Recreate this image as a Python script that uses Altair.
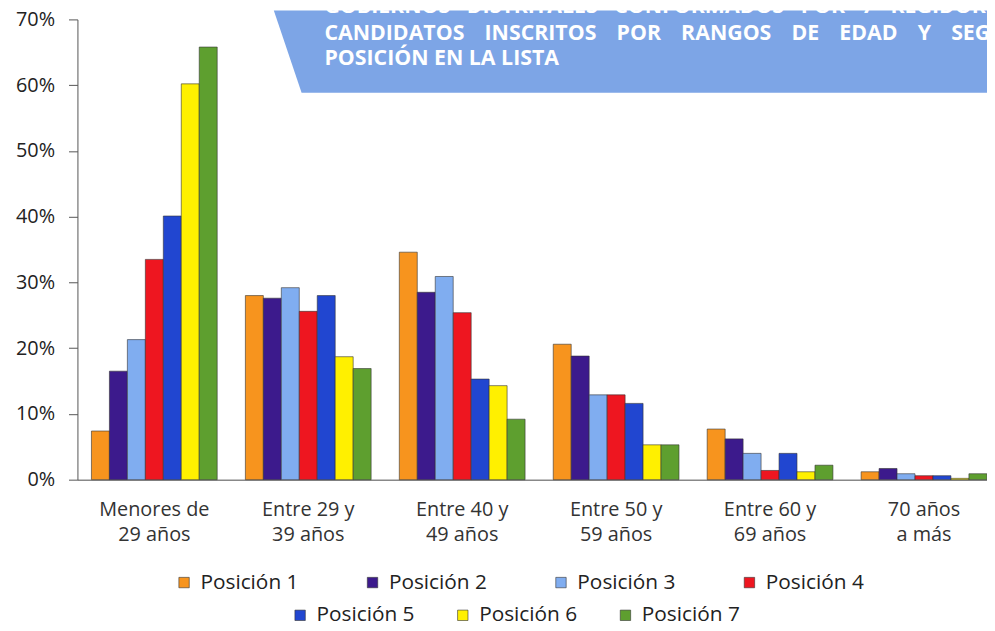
import altair as alt
import pandas as pd

categories = ["Menores de\n29 años", "Entre 29 y\n39 años", "Entre 40 y\n49 años",
              "Entre 50 y\n59 años", "Entre 60 y\n69 años", "70 años\na más"]
positions = ["Posición 1", "Posición 2", "Posición 3", "Posición 4",
             "Posición 5", "Posición 6", "Posición 7"]
p1 = [7.4, 28.0, 34.6, 20.6, 7.7, 1.2]
p2 = [16.5, 27.6, 28.5, 18.8, 6.2, 1.7]
p3 = [21.3, 29.2, 30.9, 12.9, 4.0, 0.9]
p4 = [33.5, 25.6, 25.4, 12.9, 1.4, 0.6]
p5 = [40.1, 28.0, 15.3, 11.6, 4.0, 0.6]
p6 = [60.2, 18.7, 14.3, 5.3, 1.2, 0.2]
p7 = [65.8, 16.9, 9.2, 5.3, 2.2, 0.9]
colors = ["#f7941e", "#3c1a8c", "#80adf0", "#ee1620", "#2146d0", "#fff000", "#5e9f2f"]
y_ticks = [0, 10, 20, 30, 40, 50, 60, 70]

title_lines = ["GOBIERNOS DISTRITALES CONFORMADOS POR 7 REGIDORES",
               "CANDIDATOS INSCRITOS POR RANGOS DE EDAD Y SEGÚN",
               "POSICIÓN EN LA LISTA"]

series = [p1, p2, p3, p4, p5, p6, p7]
rows = []
for pos, vals in zip(positions, series):
    for c, v in zip(categories, vals):
        rows.append({"cat": c, "pos": pos, "val": v})
df = pd.DataFrame(rows)
df_a = df[df["pos"].isin(positions[:4])]
df_b = df[df["pos"].isin(positions[4:])]

FONT = "Open Sans"

# decorative banner (pixel space)
banner = pd.DataFrame({"by": [-9, 74], "bx": [198, 226], "bx2": [930, 930]})
banner_layer = alt.Chart(banner).mark_area(orient="horizontal", color="#7da5e6").encode(
    y=alt.Y("by:Q", scale=None, axis=None),
    x=alt.X("bx:Q", scale=None, axis=None),
    x2="bx2:Q",
)

def title_text(line, ypix, gap):
    t = line.replace(" ", gap)
    d = pd.DataFrame({"t": [t]})
    return alt.Chart(d).mark_text(
        align="left", baseline="alphabetic", font=FONT, fontWeight="bold",
        fontSize=21.5, color="white"
    ).encode(x=alt.value(249), y=alt.value(ypix), text="t:N")

t1 = title_text(title_lines[0], -6, "\u00a0\u00a0\u00a0")
t2 = title_text(title_lines[1], 21, "\u00a0\u00a0\u00a0\u2009")
t3 = title_text(title_lines[2], 46, "\u00a0")

x_scale = alt.Scale(domain=categories, range=[0, 931], paddingInner=0.183, paddingOuter=0.091)
xo_scale = alt.Scale(domain=positions, paddingInner=0, paddingOuter=0)
y_scale = alt.Scale(domain=[0, 70], nice=False, zero=True)

def legend(x, y, pad):
    return alt.Legend(
        title=None, orient="none", legendX=x, legendY=y, direction="horizontal",
        symbolType="square", symbolSize=110, symbolStrokeWidth=0.6,
        labelFont=FONT, labelFontSize=21, labelColor="#222", labelOffset=6,
        columnPadding=pad, padding=0,
    )

bars_a = alt.Chart(df_a).mark_bar(stroke="#333", strokeWidth=0.6).encode(
    x=alt.X("cat:N", sort=categories, scale=x_scale, title=None,
            axis=alt.Axis(labelExpr="split(datum.label, '\\n')", labelAngle=0,
                          ticks=False, domainColor="#888", domainWidth=1.5,
                          labelFont=FONT, labelFontSize=20, labelColor="#333",
                          labelPadding=20, labelLineHeight=25, labelBaseline="top")),
    xOffset=alt.XOffset("pos:N", sort=positions, scale=xo_scale),
    y=alt.Y("val:Q", scale=y_scale, title=None,
            axis=alt.Axis(values=y_ticks, labelExpr="datum.value + '%'", grid=False,
                          domainColor="#555", tickColor="#555", tickSize=9,
                          labelPadding=14, labelFont=FONT, labelFontSize=20,
                          labelColor="#222")),
    color=alt.Color("pos:N", scale=alt.Scale(domain=positions[:4], range=colors[:4]),
                    legend=legend(97, 557, 64)),
)

bars_b = alt.Chart(df_b).mark_bar(stroke="#333", strokeWidth=0.6).encode(
    x=alt.X("cat:N", sort=categories, scale=x_scale, axis=None),
    xOffset=alt.XOffset("pos:N", sort=positions, scale=xo_scale),
    y=alt.Y("val:Q", scale=y_scale, axis=None),
    color=alt.Color("pos:N", scale=alt.Scale(domain=positions[4:], range=colors[4:]),
                    legend=legend(214, 590, 38)),
)

chart = alt.layer(banner_layer, t1, t2, t3, bars_a, bars_b).resolve_scale(
    x="independent", y="independent", color="independent", xOffset="independent"
).resolve_legend(color="independent").properties(
    width=917, height=464,
    autosize=alt.AutoSizeParams(type="none"),
    padding={"left": 70, "top": 9, "right": 0, "bottom": 143},
    background="white",
).configure_view(stroke=None)

chart.save("out.html", embed_options={"renderer": "svg", "actions": False})
